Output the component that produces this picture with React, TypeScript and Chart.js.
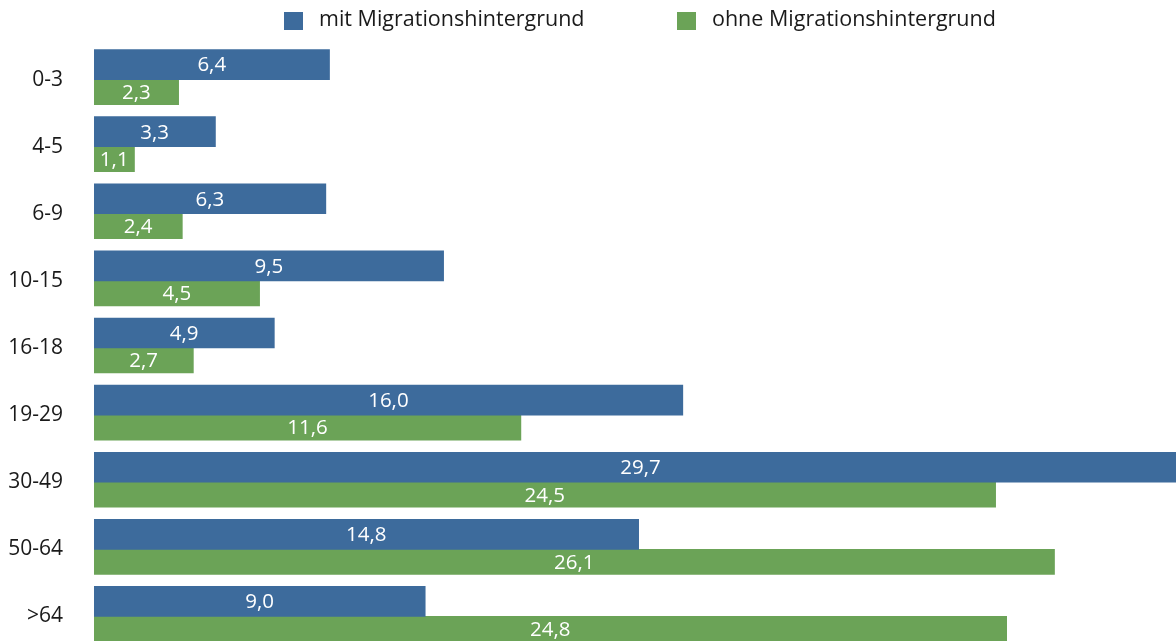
import { useEffect, useRef } from "react";
import { Chart, registerables } from "chart.js";

Chart.register(...registerables);

const categories = ["0-3", "4-5", "6-9", "10-15", "16-18", "19-29", "30-49", "50-64", ">64"];
const withMigration = [6.4, 3.3, 6.3, 9.5, 4.9, 16.0, 29.7, 14.8, 9.0];
const withoutMigration = [2.3, 1.1, 2.4, 4.5, 2.7, 11.6, 24.5, 26.1, 24.8];
const seriesLabels = ["mit Migrationshintergrund", "ohne Migrationshintergrund"];
const seriesColors = ["#3d6b9c", "#6ba357"];

const FONT = "'Open Sans', 'Noto Sans', sans-serif";

const fmt = (v: number) => v.toFixed(1).replace(".", ",");

const valueLabels = {
  id: "valueLabels",
  afterDatasetsDraw(chart: any) {
    const ctx = chart.ctx;
    ctx.save();
    ctx.fillStyle = "#ffffff";
    ctx.font = `20.5px ${FONT}`;
    ctx.textAlign = "center";
    ctx.textBaseline = "middle";
    chart.data.datasets.forEach((ds: any, di: number) => {
      const meta = chart.getDatasetMeta(di);
      meta.data.forEach((el: any, i: number) => {
        const p = el.getProps(["x", "y", "base"], true);
        ctx.fillText(fmt(ds.data[i]), (p.x + p.base) / 2, p.y + 1);
      });
    });
    ctx.restore();
  },
};

const topLegend = {
  id: "topLegend",
  afterDraw(chart: any) {
    const ctx = chart.ctx;
    const boxX = [284, 677];
    ctx.save();
    ctx.font = `21.5px ${FONT}`;
    ctx.textAlign = "left";
    ctx.textBaseline = "middle";
    chart.data.datasets.forEach((ds: any, di: number) => {
      ctx.fillStyle = ds.backgroundColor;
      ctx.fillRect(boxX[di], 12, 19, 18);
      ctx.fillStyle = "#1a1a1a";
      ctx.fillText(ds.label, boxX[di] + 35, 20);
    });
    ctx.restore();
  },
};

export default function App() {
  const ref = useRef<HTMLCanvasElement>(null);

  useEffect(() => {
    if (!ref.current) return;
    const chart = new Chart(ref.current, {
      type: "bar",
      data: {
        labels: categories,
        datasets: [
          {
            label: seriesLabels[0],
            data: withMigration,
            backgroundColor: seriesColors[0],
            barThickness: 30,
          },
          {
            label: seriesLabels[1],
            data: withoutMigration,
            backgroundColor: seriesColors[1],
            barThickness: 25,
          },
        ],
      },
      options: {
        indexAxis: "y",
        responsive: false,
        animation: false,
        devicePixelRatio: 1,
        layout: { padding: { top: 46, right: 0, bottom: 0, left: 0 } },
        plugins: {
          legend: { display: false },
          tooltip: { enabled: false },
        },
        scales: {
          x: {
            display: false,
            min: 0,
            max: 29.7,
          },
          y: {
            grid: { display: false, drawTicks: false },
            border: { display: false },
            ticks: {
              color: "#1a1a1a",
              font: { family: FONT, size: 21 },
              padding: 31,
            },
            afterFit: (s: any) => {
              s.width = 94;
              s.paddingTop = 0;
              s.paddingBottom = 0;
            },
          },
        },
      },
      plugins: [valueLabels, topLegend],
    });
    return () => chart.destroy();
  }, []);

  return (
    <div
      style={{
        position: "fixed",
        left: 0,
        top: 0,
        width: 1176,
        height: 641,
        overflow: "hidden",
        background: "#ffffff",
      }}
    >
      <canvas ref={ref} width={1187} height={650} style={{ display: "block" }} />
    </div>
  );
}
